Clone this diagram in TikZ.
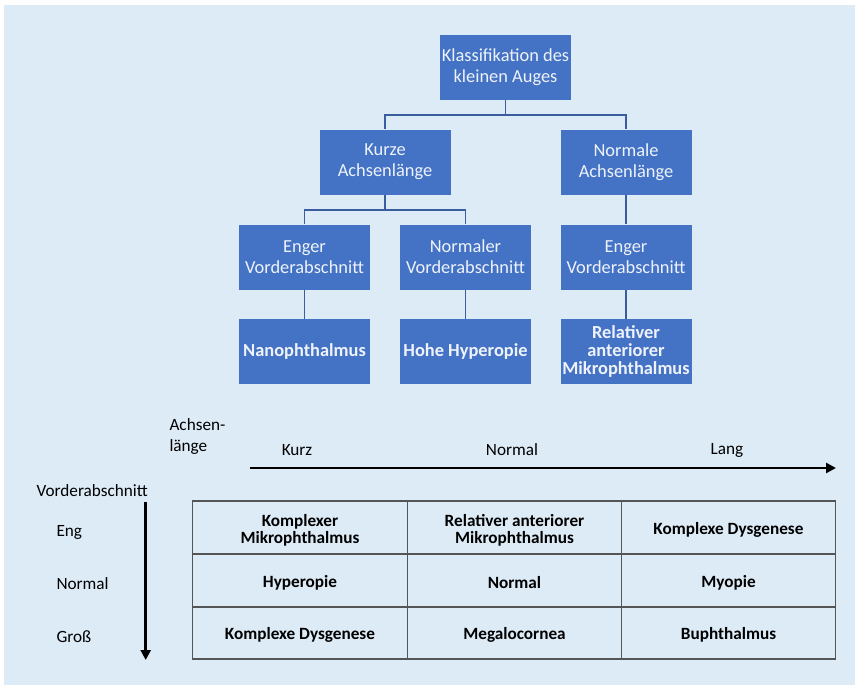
\documentclass[tikz,border=0pt]{standalone}
\usepackage{fontspec}
\setmainfont{Carlito}
\usetikzlibrary{arrows.meta}
\definecolor{bgblue}{HTML}{DDEBF7}
\definecolor{boxblue}{HTML}{4472C4}
\definecolor{boxtext}{HTML}{EEF3FB}
\definecolor{linkblue}{HTML}{3A5D9E}
\definecolor{gridgray}{HTML}{555555}
\tikzset{
  treebox/.style={draw=none, fill=boxblue, minimum width=131pt, minimum height=65pt,
    inner sep=0.5pt, align=center, text=boxtext, font=\fontsize{18.4}{20.7}\selectfont},
  leafbox/.style={treebox, font=\fontsize{18.4}{17.6}\selectfont\bfseries},
  link/.style={draw=linkblue, line width=1.6pt},
  celltext/.style={align=center, font=\fontsize{17.2}{17.2}\selectfont\bfseries, text=black},
  lab/.style={font=\fontsize{17.2}{21}\selectfont, text=black},
  axis/.style={line width=2.8pt, -{Triangle[length=10pt,width=10pt]}},
}
\begin{document}
\begin{tikzpicture}[x=1pt,y=-1pt]
\useasboundingbox (0,0) rectangle (855,685);
\fill[white] (0,0) rectangle (855,685);
\fill[bgblue] (4,5) rectangle (855,685);
% tree
\node[treebox] (top) at (505.5,67.5) {Klassifikation des\\kleinen Auges};
\node[treebox] (kurz) at (385,162) {Kurze\\Achsenlänge};
\node[treebox] (norm) at (626,162) {Normale\\Achsenlänge};
\node[treebox] (eng1) at (304.5,257) {Enger\\Vorderabschnitt};
\node[treebox] (normv) at (465.5,257) {Normaler\\Vorderabschnitt};
\node[treebox] (eng2) at (626,257) {Enger\\Vorderabschnitt};
\node[leafbox] (nano) at (304.5,351.5) {Nanophthalmus};
\node[leafbox] (hohe) at (465.5,351.5) {Hohe Hyperopie};
\node[leafbox] (rel) at (626,351.5) {Relativer\\anteriorer\\Mikrophthalmus};
\draw[link] (top.south) -- ++(0,15) -| (kurz.north);
\draw[link] (top.south) -- ++(0,15) -| (norm.north);
\draw[link] (kurz.south) -- ++(0,15) -| (eng1.north);
\draw[link] (kurz.south) -- ++(0,15) -| (normv.north);
\draw[link] (norm.south) -- (eng2.north);
\draw[link] (eng1.south) -- (nano.north);
\draw[link] (normv.south) -- (hohe.north);
\draw[link] (eng2.south) -- (rel.north);
% axes
\node[lab, anchor=west, align=left] (achs) at (166,437) {Achsen-\\länge};
\node[lab] (lkurz) at (297,450) {Kurz};
\node[lab] (lnorm) at (512,450) {Normal};
\node[lab] (llang) at (727,450) {Lang};
\coordinate (hA) at (250,468);
\coordinate (hB) at (836,468);
\draw[axis] (hA) -- (hB);
\node[lab, anchor=west] (vorder) at (33,491) {Vorderabschnitt};
\coordinate (vA) at (145.7,502);
\coordinate (vB) at (145.7,660);
\draw[axis] (vA) -- (vB);
\node[lab, anchor=west] (leng) at (53,532) {Eng};
\node[lab, anchor=west] (lnormal) at (53,584) {Normal};
\node[lab, anchor=west] (lgross) at (53,637) {Groß};
% table
\draw[gridgray, line width=1.4pt] (192.7,501) rectangle (835.5,659);
\draw[gridgray, line width=1.4pt] (192.7,554) -- (835.5,554);
\draw[gridgray, line width=1.4pt] (192.7,607) -- (835.5,607);
\draw[gridgray, line width=1.4pt] (407.5,501) -- (407.5,659);
\draw[gridgray, line width=1.4pt] (621.7,501) -- (621.7,659);
\node[celltext] (c11) at (300,530) {Komplexer\\Mikrophthalmus};
\node[celltext] (c12) at (514.5,530) {Relativer anteriorer\\Mikrophthalmus};
\node[celltext] (c13) at (728.5,530) {Komplexe Dysgenese};
\node[celltext] (c21) at (300,582.5) {Hyperopie};
\node[celltext] (c22) at (514.5,582.5) {Normal};
\node[celltext] (c23) at (728.5,582.5) {Myopie};
\node[celltext] (c31) at (300,635) {Komplexe Dysgenese};
\node[celltext] (c32) at (514.5,635) {Megalocornea};
\node[celltext] (c33) at (728.5,635) {Buphthalmus};
\end{tikzpicture}
\end{document}
